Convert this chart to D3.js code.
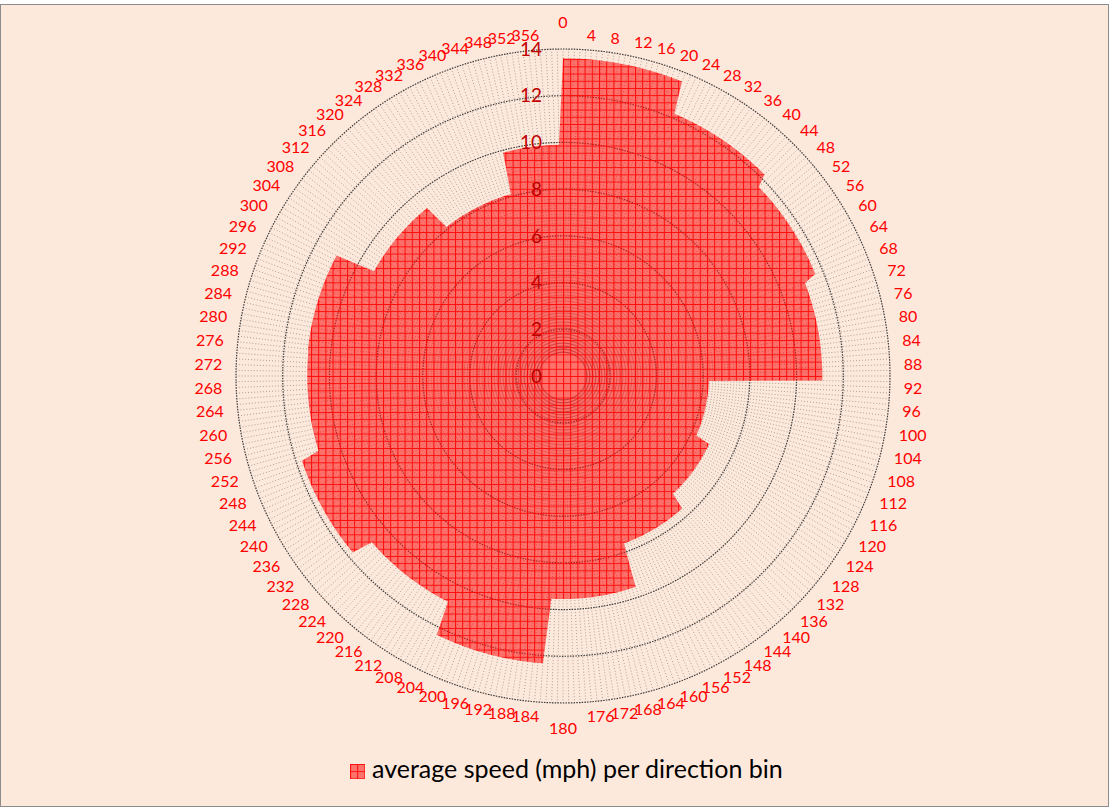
<!DOCTYPE html>
<html>
<head>
<meta charset="utf-8">
<script src="https://cdn.jsdelivr.net/npm/d3@7"></script>
<style>
  html, body { margin: 0; padding: 0; background: #fff; }
  svg { display: block; }
</style>
</head>
<body>
<svg id="chart"></svg>
<script>
const W = 1111, H = 808;

// direction bins (start angle, degrees) and the average speed in each
const binStart = [0, 23, 46, 69, 92, 115, 138, 161, 184, 207, 230, 253, 276, 299, 322, 345];
const binSpeed = [13.6, 12.2, 11.65, 11.1, 6.25, 6.9, 7.63, 9.55, 12.33, 10.85, 11.75, 10.95, 10.98, 9.25, 8.1, 9.9];

const directions = d3.range(0, 360);      // one category per degree
const dirLabels = d3.range(0, 360, 4);    // only every 4th one carries a label
const speedTicks = [0, 2, 4, 6, 8, 10, 12, 14];
const seriesName = "average speed (mph) per direction bin";

const cx = 563, cy = 376, R = 327;

const svg = d3.select("#chart")
  .attr("width", W)
  .attr("height", H)
  .style("font-family", "Lato, 'Open Sans', sans-serif");

// chart area
svg.append("rect")
  .attr("x", 0.5).attr("y", 4.5)
  .attr("width", 1108).attr("height", 802)
  .attr("fill", "#fde9dc")
  .attr("stroke", "#8c8c8c");

const defs = svg.append("defs");
const pat = defs.append("pattern")
  .attr("id", "redgrid")
  .attr("patternUnits", "userSpaceOnUse")
  .attr("width", 7.2).attr("height", 7.2);
pat.append("rect")
  .attr("width", 7.2).attr("height", 7.2)
  .attr("fill", "#ff1010").attr("fill-opacity", 0.55);
pat.append("path")
  .attr("d", "M0,0.5H7.2M0.5,0V7.2")
  .attr("stroke", "#ff0000").attr("stroke-opacity", 0.9)
  .attr("stroke-width", 1);

const angle = d3.scaleLinear().domain([0, 360]).range([0, 2 * Math.PI]);
const r = d3.scaleLinear().domain([0, 14]).range([0, R]);

function speedAt(d) {
  return binSpeed[d3.bisectRight(binStart, d) - 1];
}

const g = svg.append("g").attr("transform", `translate(${cx},${cy})`);

// spokes, one per category
g.append("g")
  .selectAll("line")
  .data(directions)
  .enter().append("line")
  .attr("x1", d => r(1) * Math.sin(angle(d)))
  .attr("y1", d => -r(1) * Math.cos(angle(d)))
  .attr("x2", d => r(14) * Math.sin(angle(d)))
  .attr("y2", d => -r(14) * Math.cos(angle(d)))
  .attr("stroke", "#3a3a3a")
  .attr("stroke-opacity", 0.7)
  .attr("stroke-width", 0.6)
  .attr("stroke-dasharray", "1,2");

// rings
const ring = d3.lineRadial()
  .angle(d => angle(d))
  .curve(d3.curveLinearClosed);

g.append("g")
  .selectAll("path")
  .data(speedTicks.filter(t => t > 0))
  .enter().append("path")
  .attr("d", t => ring.radius(r(t))(directions))
  .attr("fill", "none")
  .attr("stroke", "#2a2a2a")
  .attr("stroke-opacity", 0.9)
  .attr("stroke-width", 1.2)
  .attr("stroke-dasharray", "1.5,1.2");

// the series
const area = d3.lineRadial()
  .angle(d => angle(d))
  .radius(d => r(speedAt(d)))
  .curve(d3.curveLinearClosed);

g.append("path")
  .datum(directions)
  .attr("d", area)
  .attr("fill", "url(#redgrid)");

// value axis labels
g.append("g")
  .selectAll("text")
  .data(speedTicks)
  .enter().append("text")
  .attr("x", -21)
  .attr("y", t => -r(t))
  .attr("dy", "0.35em")
  .attr("text-anchor", "end")
  .attr("font-size", 19)
  .attr("fill", "#c00000")
  .text(t => t);

// category labels: start/end anchored on the sides, centred at top and bottom
const R0 = 341;
g.append("g")
  .selectAll("text")
  .data(dirLabels)
  .enter().append("text")
  .attr("font-size", 16)
  .attr("fill", "#ff0000")
  .attr("dy", "0.35em")
  .attr("text-anchor", d => d === 0 || d === 180 ? "middle" : (d < 180 ? "start" : "end"))
  .attr("x", d => R0 * Math.sin(angle(d)))
  .attr("y", d => {
    const y = -R0 * Math.cos(angle(d));
    if (d === 0) return y - 13;
    if (d === 180) return y + 11;
    return y;
  })
  .text(d => d);

// legend
const legend = svg.append("g").attr("transform", "translate(350,764)");
legend.append("rect")
  .attr("width", 15).attr("height", 15)
  .attr("fill", "url(#redgrid)");
legend.append("text")
  .attr("x", 22)
  .attr("y", 14)
  .attr("font-size", 25)
  .attr("fill", "#000")
  .text(seriesName);
</script>
</body>
</html>
